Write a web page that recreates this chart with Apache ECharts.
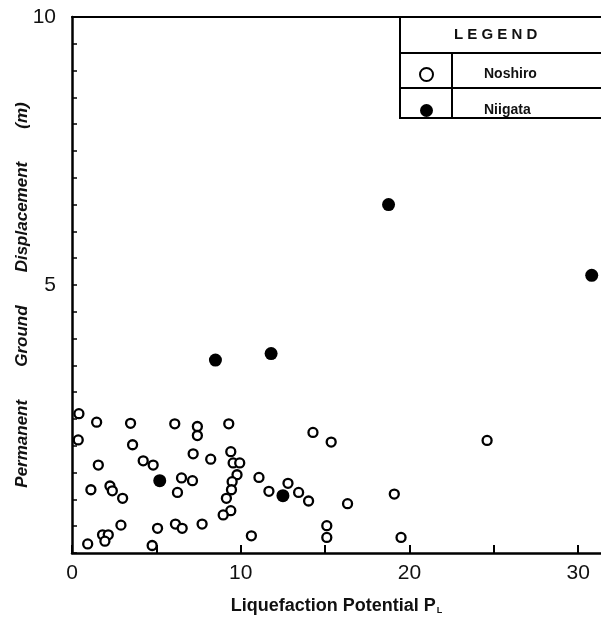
<!DOCTYPE html>
<html>
<head>
<meta charset="utf-8">
<script src="https://cdn.jsdelivr.net/npm/echarts@6/dist/echarts.min.js"></script>
<style>
html,body{margin:0;padding:0;background:#fff;}
#chart{width:601px;height:621px;}
</style>
</head>
<body>
<div id="chart"></div>
<script>
// Liquefaction potential P_L (x) vs permanent ground displacement in m (y)
const noshiroPL = [0.41,1.46,3.47,0.37,3.59,4.22,4.81,1.56,1.12,2.25,2.39,3.0,2.9,1.81,2.15,1.95,0.93,4.75,5.07,
  6.09,7.43,7.43,9.29,7.18,8.22,9.41,9.55,9.94,9.78,9.49,9.45,9.15,9.41,8.96,6.49,7.14,6.25,6.13,6.53,7.71,10.63,
  11.08,11.67,12.8,13.43,14.02,14.28,15.36,16.33,15.1,15.1,24.6,19.1,19.5];
const noshiroDisp = [2.6,2.44,2.42,2.11,2.02,1.72,1.64,1.64,1.18,1.25,1.16,1.02,0.52,0.34,0.34,0.22,0.17,0.14,0.46,
  2.41,2.36,2.19,2.41,1.85,1.75,1.89,1.68,1.68,1.46,1.33,1.18,1.02,0.79,0.71,1.40,1.35,1.13,0.54,0.46,0.54,0.32,
  1.41,1.15,1.30,1.13,0.97,2.25,2.07,0.92,0.51,0.29,2.10,1.10,0.29];
const niigataPL = [5.2,8.5,11.8,12.5,18.76,30.8];
const niigataDisp = [1.35,3.6,3.72,1.07,6.5,5.18];
const xTickLabels = [0,10,20,30];
const yTickLabels = [5,10];

const FONT = '"Liberation Sans", Arial, sans-serif';
const pair = (xs, ys) => xs.map((x, i) => [x, ys[i]]);

const chart = echarts.init(document.getElementById('chart'), null, {renderer: 'canvas'});
chart.setOption({
  animation: false,
  backgroundColor: '#fff',
  grid: {left: 72, right: 0, top: 17, bottom: 68, containLabel: false, outerBoundsMode: 'none'},
  xAxis: [{
    type: 'value', min: 0, max: 31.35, interval: 5,
    name: 'Liquefaction Potential P{sub|L}',
    nameLocation: 'middle', nameGap: 44, nameMoveOverlap: false,
    nameTextStyle: {fontFamily: FONT, fontSize: 18, fontWeight: 'bold', color: '#111',
      rich: {sub: {fontSize: 9, fontWeight: 'bold', verticalAlign: 'bottom', padding: [8,0,0,1], fontFamily: FONT}}},
    axisLine: {lineStyle: {color: '#000', width: 2.5}},
    axisTick: {inside: true, length: 8, lineStyle: {color: '#000', width: 2}},
    splitLine: {show: false},
    axisLabel: {fontFamily: FONT, fontSize: 21, color: '#111', margin: 10, showMaxLabel: false,
      formatter: v => xTickLabels.includes(v) ? String(v) : ''}
  }, {
    type: 'value', position: 'top', min: 0, max: 31.35,
    axisLine: {show: true, lineStyle: {color: '#000', width: 2}},
    axisTick: {show: false}, axisLabel: {show: false}, splitLine: {show: false}
  }],
  yAxis: {
    type: 'value', min: 0, max: 10, interval: 0.5,
    name: 'Permanent       Ground       Displacement       (m)',
    nameLocation: 'middle', nameGap: 41, nameRotate: 90, nameMoveOverlap: false,
    nameTextStyle: {fontFamily: FONT, fontSize: 17, fontStyle: 'italic', fontWeight: 'bold', color: '#111',
      padding: [0, 20, 0, 0]},
    axisLine: {show: true, lineStyle: {color: '#000', width: 2.5}},
    axisTick: {inside: true, length: 5, lineStyle: {color: '#000', width: 1.5}},
    splitLine: {show: false},
    axisLabel: {fontFamily: FONT, fontSize: 21, color: '#111', margin: 16,
      formatter: v => yTickLabels.includes(v) ? String(v) : ''}
  },
  legend: {
    orient: 'vertical', left: 414, top: 62, itemGap: 21,
    itemWidth: 13, itemHeight: 13,
    data: ['Noshiro', 'Niigata'],
    textStyle: {fontFamily: FONT, fontSize: 14, fontWeight: 'bold', color: '#111', lineHeight: 15,
      padding: [0, 0, 0, 46]}
  },
  graphic: [
    {type: 'polyline', shape: {points: [[400,17],[400,118],[601,118]]}, style: {stroke: '#000', lineWidth: 2, fill: null}, z: 10},
    {type: 'line', shape: {x1: 400, y1: 53, x2: 601, y2: 53}, style: {stroke: '#000', lineWidth: 2}, z: 10},
    {type: 'line', shape: {x1: 400, y1: 88, x2: 601, y2: 88}, style: {stroke: '#000', lineWidth: 2}, z: 10},
    {type: 'line', shape: {x1: 452, y1: 53, x2: 452, y2: 118}, style: {stroke: '#000', lineWidth: 2}, z: 10},
    {type: 'text', left: 454, top: 27, style: {text: 'L E G E N D', font: 'bold 15px ' + FONT, fill: '#111'}, z: 10}
  ],
  series: [
    {
      name: 'Noshiro', type: 'scatter', symbol: 'circle', symbolSize: 9,
      itemStyle: {color: '#fff', borderColor: '#000', borderWidth: 2.3, opacity: 1},
      data: pair(noshiroPL, noshiroDisp)
    },
    {
      name: 'Niigata', type: 'scatter', symbol: 'circle', symbolSize: 13,
      itemStyle: {color: '#000', borderColor: '#000', borderWidth: 0, opacity: 1},
      data: pair(niigataPL, niigataDisp)
    }
  ]
});
</script>
</body>
</html>
